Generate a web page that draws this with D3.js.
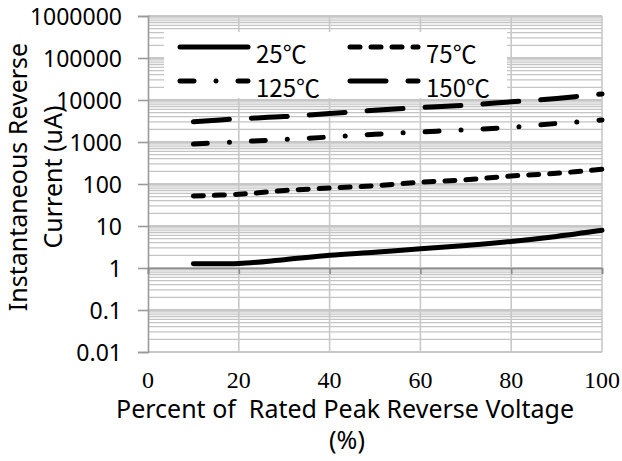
<!DOCTYPE html>
<html>
<head>
<meta charset="utf-8">
<script src="https://cdn.jsdelivr.net/npm/d3@7"></script>
<style>
  html, body { margin: 0; padding: 0; background: #fff; }
  svg { display: block; }
</style>
</head>
<body>
<svg id="chart" width="622" height="461"></svg>
<script>
// ---- data ----
const xValues = [10, 20, 30, 40, 50, 60, 70, 80, 90, 100];
const series25 = [1.27, 1.28, 1.58, 2.0, 2.38, 2.88, 3.45, 4.3, 5.65, 7.9];
const series75 = [52, 57, 70, 80, 91, 110, 126, 155, 180, 225];
const series125 = [896, 1016, 1147, 1315, 1530, 1730, 1950, 2230, 2760, 3350];
const series150 = [3040, 3570, 4030, 4770, 5690, 6630, 7480, 9060, 10860, 13900];
const seriesNames = ["25℃", "75℃", "125℃", "150℃"];
const xTicks = [0, 20, 40, 60, 80, 100];
const yTicks = [0.01, 0.1, 1, 10, 100, 1000, 10000, 100000, 1000000];
const yTickLabels = ["0.01", "0.1", "1", "10", "100", "1000", "10000", "100000", "1000000"];
const yTitle = ["Instantaneous Reverse", "Current (uA)"];
const xTitle = ["Percent of  Rated Peak Reverse Voltage", "(%)"];

// ---- layout ----
const svg = d3.select("#chart");
const L = 148, R = 602, T = 16, B = 352;
const x = d3.scaleLinear().domain([0, 100]).range([L, R]);
const y = d3.scaleLog().domain([0.01, 1000000]).range([B, T]);

const sansFont = "'Noto Sans', 'DejaVu Sans', sans-serif";
const gridColor = "#c4c4c4";

// minor horizontal gridlines
const minor = [];
for (let d = -2; d <= 5; d++) for (let k = 2; k <= 9; k++) minor.push(k * Math.pow(10, d));
svg.append("g").selectAll("line").data(minor).join("line")
  .attr("x1", L).attr("x2", R)
  .attr("y1", d => y(d)).attr("y2", d => y(d))
  .attr("stroke", gridColor).attr("stroke-width", 1.3);

// major horizontal gridlines
svg.append("g").selectAll("line").data(yTicks).join("line")
  .attr("x1", L).attr("x2", R)
  .attr("y1", d => y(d)).attr("y2", d => y(d))
  .attr("stroke", "#b4b4b4").attr("stroke-width", 1.5);

// vertical gridlines
svg.append("g").selectAll("line").data(xTicks.filter(d => d > 0)).join("line")
  .attr("x1", d => x(d)).attr("x2", d => x(d))
  .attr("y1", T).attr("y2", B)
  .attr("stroke", "#c8c8c8").attr("stroke-width", 1.6);

// left axis
const yAxis = d3.axisLeft(y).tickValues(yTicks).tickSize(10).tickFormat((d, i) => yTickLabels[i]);
const gy = svg.append("g").attr("transform", `translate(${L},0)`).call(yAxis);
gy.select(".domain").attr("stroke", "#9a9a9a").attr("stroke-width", 1.6);
gy.selectAll(".tick line").attr("stroke", "#9a9a9a").attr("stroke-width", 1.6);
gy.selectAll(".tick text")
  .attr("x", -26).attr("dy", "0.36em")
  .attr("font-family", sansFont).attr("font-size", 23).attr("fill", "#000");

// horizontal axis line crossing at 1
const xAxis = d3.axisBottom(x).tickValues(xTicks).tickSize(6).tickFormat("");
const gx = svg.append("g").attr("transform", `translate(0,${y(1)})`).call(xAxis);
gx.select(".domain").attr("stroke", "#8c8c8c").attr("stroke-width", 1.6);
gx.selectAll(".tick line").attr("stroke", "#8c8c8c").attr("stroke-width", 1.6);

// x tick labels (low position)
svg.append("g").selectAll("text").data(xTicks).join("text")
  .attr("x", d => x(d)).attr("y", 388)
  .attr("text-anchor", "middle")
  .attr("font-family", "'Liberation Serif', 'DejaVu Serif', serif")
  .attr("font-size", 24).attr("fill", "#000")
  .text(d => d);

// ---- series ----
const lineGen = d3.line().x(d => x(d[0])).y(d => y(d[1])).curve(d3.curveCatmullRom.alpha(0.5));
const styles = [
  { data: series25, dash: null },
  { data: series75, dash: "10,11" },
  { data: series125, dash: "14,22,0,22" },
  { data: series150, dash: "36,22" }
];
svg.append("g").selectAll("path").data(styles).join("path")
  .attr("d", s => lineGen(xValues.map((v, i) => [v, s.data[i]])))
  .attr("fill", "none").attr("stroke", "#000").attr("stroke-width", 5)
  .attr("stroke-linecap", "round").attr("stroke-linejoin", "round")
  .attr("stroke-dasharray", s => s.dash);

// ---- legend ----
svg.append("rect").attr("x", 164).attr("y", 32).attr("width", 343).attr("height", 66).attr("fill", "#fff");
const legendPos = [
  { x: 180, y: 47 }, { x: 350, y: 47 }, { x: 180, y: 81 }, { x: 350, y: 81 }
];
const lg = svg.append("g").selectAll("g").data(seriesNames).join("g")
  .attr("transform", (d, i) => `translate(${legendPos[i].x},${legendPos[i].y})`);
lg.append("line")
  .attr("x1", 0).attr("x2", 68).attr("y1", 0).attr("y2", 0)
  .attr("stroke", "#000").attr("stroke-width", 5).attr("stroke-linecap", "round")
  .attr("stroke-dasharray", (d, i) => styles[i].dash);
lg.append("text")
  .attr("x", 76).attr("y", 16)
  .attr("font-family", "'Noto Sans CJK SC', 'Noto Sans', sans-serif")
  .attr("font-size", 24).attr("fill", "#000")
  .text(d => d);

// ---- titles ----
const yt = svg.append("g").attr("font-family", sansFont).attr("font-size", 25).attr("fill", "#000");
yt.append("text").attr("transform", "translate(27,177) rotate(-90)").attr("text-anchor", "middle").text(yTitle[0]);
yt.append("text").attr("transform", "translate(62,177) rotate(-90)").attr("text-anchor", "middle").text(yTitle[1]);

const xt = svg.append("g").attr("font-family", sansFont).attr("font-size", 25).attr("fill", "#000");
xt.append("text").attr("x", 345).attr("y", 418).attr("text-anchor", "middle").style("white-space", "pre").text(xTitle[0]);
xt.append("text").attr("x", 347).attr("y", 449).attr("text-anchor", "middle").text(xTitle[1]);
</script>
</body>
</html>
